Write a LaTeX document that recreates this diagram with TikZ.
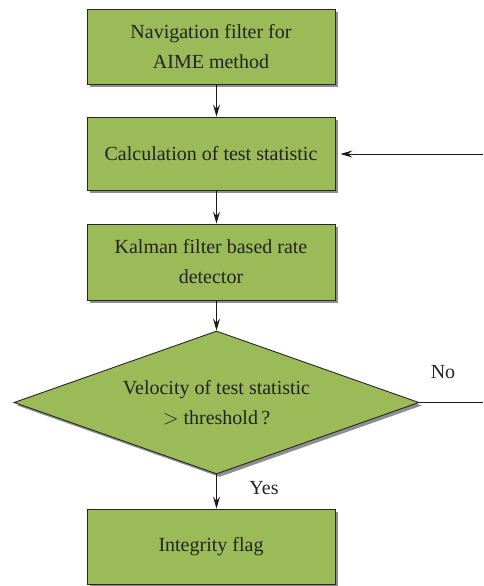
\documentclass[tikz,border=0pt]{standalone}
\usepackage{fontspec}
\setmainfont{Liberation Serif}
\newfontfamily\diagfont{Liberation Serif}
\usetikzlibrary{shapes.geometric,shadows,arrows.meta}
\definecolor{boxgreen}{HTML}{9BBB59}
\definecolor{shadowgray}{HTML}{8E8E8E}
\definecolor{txt}{HTML}{222222}
\tikzset{
  procbox/.style={draw=black!85, line width=0.9pt, fill=boxgreen,
    minimum width=248pt, inner sep=0pt, align=center, text=txt,
    font=\diagfont\fontsize{20}{30}\selectfont,
    drop shadow={shadow xshift=3pt, shadow yshift=-3pt, fill=shadowgray, opacity=1}},
  decbox/.style={diamond, draw=black!85, line width=0.9pt, fill=boxgreen,
    minimum width=405pt, minimum height=143pt, inner sep=0pt, aspect=2.83,
    align=center, text=txt, font=\diagfont\fontsize{20}{30}\selectfont,
    drop shadow={shadow xshift=3pt, shadow yshift=-3pt, fill=shadowgray, opacity=1}},
  flow/.style={line width=1pt, draw=black!90,
    -{Stealth[length=12pt, width=7pt, inset=4.5pt]}},
  plain/.style={line width=0.9pt, draw=black!90},
  lbl/.style={text=txt, font=\diagfont\fontsize{20}{24}\selectfont, inner sep=0pt}
}
\begin{document}
\begin{tikzpicture}[x=1pt,y=-1pt]
\useasboundingbox (0,0) rectangle (483,586);
\node[procbox, minimum height=75pt] (b1) at (211,46.5) {Navigation filter for\\AIME method};
\node[procbox, minimum height=73pt] (b2) at (211,153.5) {Calculation of test statistic};
\node[procbox, minimum height=76pt] (b3) at (211,262) {Kalman filter based rate\\detector};
\node[decbox] (d) at (216.5,402.5) {Velocity of test statistic\\${>}$ threshold\,?};
\node[procbox, minimum height=75pt] (b5) at (211,546.5) {Integrity flag};
\coordinate (fb) at (483,154);
\coordinate (noend) at (483,402.5);
\draw[flow] (b1.south -| d.north) -- (b2.north -| d.north);
\draw[flow] (b2.south -| d.north) -- (b3.north -| d.north);
\draw[flow] (b3.south -| d.north) -- (d.north);
\draw[flow] (d.south) -- (b5.north -| d.south);
\draw[flow] (fb) -- ([xshift=5pt]b2.east |- fb);
\draw[plain] (d.east) -- (noend);
\node[lbl] (no) at (443,372) {No};
\node[lbl] (yes) at (264,488) {Yes};
\end{tikzpicture}
\end{document}
